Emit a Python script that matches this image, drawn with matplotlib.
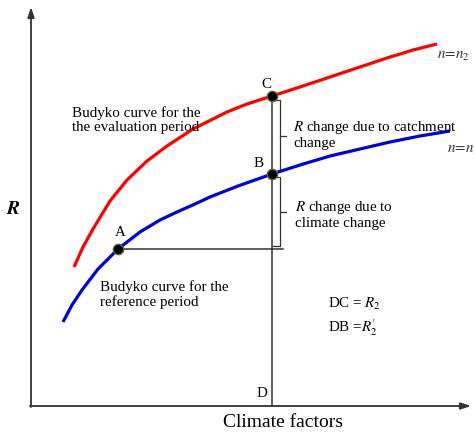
""" Schematic of the Budyko-curve decomposition of runoff change. """

import matplotlib.pyplot as plt

plt.rcParams["font.family"] = ["Liberation Serif", "DejaVu Serif"]
plt.rcParams["mathtext.fontset"] = "stix"

# Curves (x = climate factors, y = R, pixel units)
red_x = [74, 83, 93, 110, 127, 147, 167, 193, 227, 247, 272, 300, 327, 357, 387, 413, 437]
red_y = [268, 248, 230, 202, 181, 162, 147, 130, 113, 105, 97, 88, 79, 69, 59, 51, 45]
blue_x = [63, 72, 82, 98, 118, 140, 160, 177, 195, 210, 238, 272, 300, 330, 360, 390, 420, 450]
blue_y = [323, 306, 291, 270, 250, 233, 221, 213, 205, 198, 187, 175, 166, 157, 150, 143, 137, 132]

# Named points
pt_names = ["A", "B", "C"]
pt_x = [118, 272, 272]
pt_y = [250, 175, 97]
origin_y = 407

fig = plt.figure(figsize=(4.75, 4.35), dpi=100)
ax = fig.add_axes([0, 0, 1, 1])
ax.set_xlim(0, 475)
ax.set_ylim(435, 0)
ax.axis("off")

axis_col = "#333333"
arrow = dict(arrowstyle="-|>,head_length=0.6,head_width=0.2", color=axis_col, lw=1.3,
             shrinkA=0, shrinkB=0)
ax.annotate("", xy=(31, 8), xytext=(31, origin_y + 1), arrowprops=arrow)
ax.annotate("", xy=(471, origin_y), xytext=(30, origin_y), arrowprops=arrow)

# Budyko curves
ax.plot(red_x, red_y, color="#ff0000", lw=2.3, solid_capstyle="butt", zorder=3)
ax.plot(blue_x, blue_y, color="#0000dd", lw=2.3, solid_capstyle="butt", zorder=3)

# Guide lines
ax.plot([pt_x[0], 283], [pt_y[0], pt_y[0]], color=axis_col, lw=1.1)
ax.plot([pt_x[2], pt_x[2]], [pt_y[2], origin_y], color=axis_col, lw=1.1)

# Brackets
for top, bot in [(101, 172), (178, 247)]:
    ax.plot([273, 280, 280, 273], [top, top, bot, bot], color=axis_col, lw=0.9)
    mid = (top + bot) / 2
    ax.plot([280, 286], [mid, mid], color=axis_col, lw=0.9)

ax.scatter(pt_x, pt_y, s=55, color="black", edgecolors="#556b2f", linewidths=1, zorder=5)

fs = 10.8
ax.text(120, 233, "A", fontsize=fs, ha="center", va="center")
ax.text(259, 164, "B", fontsize=fs, ha="center", va="center")
ax.text(266, 84, "C", fontsize=fs, ha="center", va="center")
ax.text(262, 394, "D", fontsize=fs, ha="center", va="center")

ax.text(72, 120, "Budyko curve for the\nthe evaluation period", fontsize=fs,
        ha="left", va="center", linespacing=1.1)
ax.text(100, 295, "Budyko curve for the\nreference period", fontsize=fs,
        ha="left", va="center", linespacing=1.1)
ax.text(293, 135, "$R$ change due to catchment\nchange", fontsize=fs,
        ha="left", va="center", linespacing=1.1)
ax.text(295, 215, "$R$ change due to\nclimate change", fontsize=fs,
        ha="left", va="center", linespacing=1.1)
ax.text(328, 304, "DC = $R_2$", fontsize=fs, ha="left", va="center")
ax.text(328, 328, "DB =$R_2^{\\prime}$", fontsize=fs, ha="left", va="center")

ax.text(437, 56, "$n\\!=\\!n_2$", fontsize=fs, ha="left", va="center", color="#333333")
ax.text(447, 150, "$n\\!=\\!n_1$", fontsize=fs, ha="left", va="center", color="#333333")

ax.text(13, 210, "$\\boldsymbol{R}$", fontsize=14, ha="center", va="center")
ax.text(283, 423, "Climate factors", fontsize=14, ha="center", va="center")

fig.savefig("out.png", dpi=100)
